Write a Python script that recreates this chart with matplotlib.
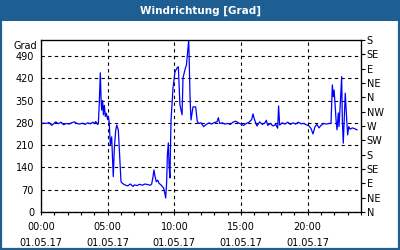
import matplotlib
matplotlib.use('Agg')
import matplotlib.pyplot as plt
from matplotlib.patches import Rectangle

# wind direction readings, hours since midnight 01.05.17
hours = [0.0, 0.2, 0.4, 0.6, 0.8, 1.0, 1.1, 1.3, 1.5, 1.7, 1.9, 2.1, 2.3, 2.5,
         2.7, 2.9, 3.1, 3.3, 3.5, 3.7, 3.9, 4.0, 4.1, 4.25, 4.3,
         4.37, 4.42, 4.45, 4.5, 4.55, 4.62, 4.68, 4.75, 4.82, 4.9, 5.0, 5.05,
         5.12, 5.2, 5.3, 5.42, 5.5, 5.6, 5.68, 5.8, 5.93, 6.0,
         6.1, 6.3, 6.5, 6.7, 6.9, 7.0, 7.2, 7.4, 7.6, 7.8, 8.0, 8.2, 8.3,
         8.4, 8.47, 8.55, 8.65, 8.75, 8.85, 9.0, 9.1, 9.2, 9.28, 9.35,
         9.42, 9.48, 9.55, 9.6, 9.67, 9.75, 9.9, 10.05, 10.2, 10.3, 10.42,
         10.58, 10.65, 10.8, 10.91, 11.08, 11.18, 11.25, 11.4, 11.6, 11.72,
         11.85, 12.0, 12.2, 12.4, 12.6, 12.8, 13.0, 13.2, 13.3, 13.4, 13.6,
         13.8, 14.0, 14.2, 14.4, 14.6, 14.8, 15.0, 15.2, 15.4, 15.6, 15.8,
         15.9, 16.0, 16.1, 16.2, 16.4, 16.6, 16.8, 16.9, 17.0, 17.2, 17.4,
         17.6, 17.75, 17.82, 17.9, 18.1, 18.3, 18.5, 18.7, 18.9, 19.1, 19.3,
         19.5, 19.7, 19.9, 20.1, 20.25, 20.4, 20.55, 20.7, 20.85, 21.0, 21.2,
         21.4, 21.6, 21.75, 21.85, 21.92, 21.98, 22.05, 22.13, 22.2, 22.3,
         22.35, 22.43, 22.55, 22.6, 22.67, 22.78, 22.82, 22.93, 23.0, 23.08,
         23.18, 23.35, 23.5, 23.7]
direction = [278, 279, 278, 281, 272, 279, 283, 277, 282, 274, 278, 276, 280, 283,
             278, 276, 279, 275, 280, 277, 282, 277, 284, 275, 277,
             340, 400, 437, 360, 320, 350, 305, 335, 300, 310, 290, 300,
             280, 210, 236, 111, 200, 255, 273, 257, 154, 95,
             90, 85, 82, 88, 80, 85, 83, 87, 84, 88, 86, 84, 88,
             110, 132, 112, 95, 100, 90, 85, 80, 75, 60, 44,
             90, 180, 217, 150, 107, 286, 389, 440, 452, 456, 337,
             305, 421, 447, 462, 540, 358, 289, 330, 330, 284,
             278, 280, 268, 275, 280, 276, 281, 283, 296, 278, 280,
             276, 278, 275, 282, 285, 280, 276, 272, 278, 282, 290,
             308, 292, 280, 270, 283, 275, 280, 288, 272, 278, 270,
             275, 263, 333, 273, 280, 276, 282, 275, 280, 276, 282,
             277, 278, 274, 270, 262, 245, 268, 275, 264, 272, 278,
             276, 278, 278, 399, 362, 383, 342, 289, 258, 311,
             268, 327, 425, 289, 216, 331, 373, 289, 242, 268,
             260, 264, 262, 258]

deg_ticks = [0, 70, 140, 210, 280, 350, 420, 490]
compass_ticks = [0, 45, 90, 135, 180, 225, 270, 315, 360, 405, 450, 495, 540]
compass_labels = ['N', 'NE', 'E', 'SE', 'S', 'SW', 'W', 'NW', 'N', 'NE', 'E', 'SE', 'S']
hour_ticks = [0, 5, 10, 15, 20]
hour_labels = ['00:00\n01.05.17', '05:00\n01.05.17', '10:00\n01.05.17',
               '15:00\n01.05.17', '20:00\n01.05.17']

frame_blue = '#1d5e93'

fig = plt.figure(figsize=(4, 2.5), dpi=100)
fig.patch.set_facecolor('white')

# title bar and outer frame
fig.patches.append(Rectangle((0, 0.918), 1, 0.082, transform=fig.transFigure,
                             facecolor=frame_blue, edgecolor='none', zorder=0))
fig.patches.append(Rectangle((0.003, 0.004), 0.994, 0.99, transform=fig.transFigure,
                             facecolor='none', edgecolor=frame_blue, lw=1.6, zorder=0))
fig.text(0.5, 0.958, 'Windrichtung [Grad]', color='white', fontsize=7.5,
         fontweight='bold', ha='center', va='center')

ax = fig.add_axes([0.1025, 0.152, 0.8, 0.688])
ax.plot(hours, direction, color='#0000ff', lw=0.9)

ax.set_xlim(0, 24)
ax.set_ylim(0, 540)
ax.set_yticks(deg_ticks)
ax.set_yticklabels([str(v) for v in deg_ticks], fontsize=7)
ax.tick_params(axis='y', length=0, pad=5)
ax.set_xticks(hour_ticks)
ax.set_xticklabels(hour_labels, fontsize=7, linespacing=1.7)
ax.set_xticks(range(25), minor=True)
ax.tick_params(axis='x', which='both', length=2.5, width=0.8, direction='out', pad=5)
ax.grid(True, color='black', linestyle=(0, (3, 3)), lw=0.8)
for s in ax.spines.values():
    s.set_linewidth(0.9)

ax.text(-0.012, 522, 'Grad', transform=ax.get_yaxis_transform(),
        ha='right', va='center', fontsize=7)

ax2 = ax.twinx()
ax2.set_ylim(0, 540)
ax2.set_yticks(compass_ticks)
ax2.set_yticklabels(compass_labels, fontsize=7)
ax2.tick_params(axis='y', length=3, width=0.8, pad=1)

fig.savefig('out.png', dpi=100)
